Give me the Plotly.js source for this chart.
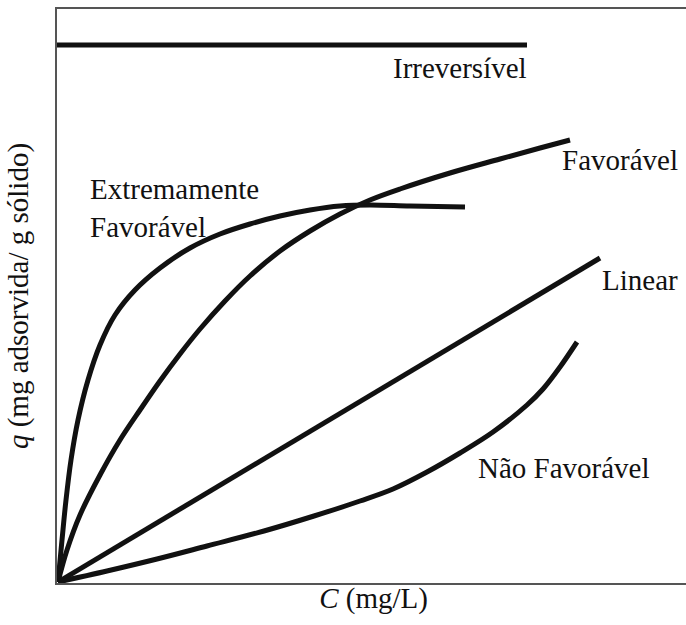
<!DOCTYPE html>
<html>
<head>
<meta charset="utf-8">
<script src="https://cdn.plot.ly/plotly-3.0.1.min.js"></script>
<style>html,body{margin:0;padding:0;background:#fff;overflow:hidden;}#wrap{width:686px;height:625px;overflow:hidden;}#chart{width:690px;height:625px;}</style>
</head>
<body>
<div id="wrap"><div id="chart"></div></div>
<script>
// Concentration C (arbitrary units) and adsorbed amount q (arbitrary units)
const irrevC = [0, 470];
const irrevQ = [538, 538];

const extremC = [1, 5, 9, 14, 21, 31, 43, 58, 78, 103, 133, 163, 193, 223, 253, 283, 313, 353, 408];
const extremQ = [1, 43, 83, 123, 163, 203, 238, 268, 293, 315, 335, 349, 359, 367, 373, 377, 378, 377, 376];

const favC = [1, 10, 23, 43, 63, 83, 103, 123, 143, 168, 193, 223, 253, 283, 313, 343, 393, 443, 483, 513];
const favQ = [1, 33, 68, 108, 143, 173, 202, 229, 254, 282, 307, 332, 352, 369, 383, 394, 410, 424, 435, 443];

const linC = [1, 543];
const linQ = [1, 325];

const naoC = [1, 50, 100, 150, 207, 257, 303, 336, 370, 403, 436, 470, 486, 503, 520];
const naoQ = [1, 12, 24, 37, 52, 67, 82, 94, 111, 130, 151, 178, 194, 216, 241];

const labels = ["Irreversível", "Extremamente<br>Favorável", "Favorável", "Linear", "Não Favorável"];
const labelC = [472, 31, 503, 543, 419];
const labelQ = [515, 375, 423, 303, 115];

const lineStyle = {color: "#111", width: 5, shape: "spline", smoothing: 1};
const traces = [
  {x: irrevC, y: irrevQ, mode: "lines", line: Object.assign({}, lineStyle, {shape: "linear"}), name: labels[0]},
  {x: extremC, y: extremQ, mode: "lines", line: lineStyle, name: "Extremamente Favorável"},
  {x: favC, y: favQ, mode: "lines", line: lineStyle, name: labels[2]},
  {x: linC, y: linQ, mode: "lines", line: Object.assign({}, lineStyle, {shape: "linear"}), name: labels[3]},
  {x: naoC, y: naoQ, mode: "lines", line: lineStyle, name: labels[4]}
];

const font = {family: "Liberation Serif", size: 29, color: "#111"};
const anchors = ["right", "left", "left", "left", "left"];
const annotations = labels.map((t, i) => ({
  x: labelC[i], y: labelQ[i], xref: "x", yref: "y", text: t, showarrow: false,
  xanchor: anchors[i], yanchor: "middle", align: "left", font: font
}));

const layout = {
  width: 690, height: 625,
  margin: {l: 57, r: 0, t: 9, b: 42},
  paper_bgcolor: "#fff", plot_bgcolor: "#fff",
  showlegend: false,
  font: font,
  xaxis: {
    range: [0, 633], showgrid: false, zeroline: false, showticklabels: false, ticks: "",
    showline: true, linecolor: "#555", linewidth: 2, mirror: true,
    title: {text: "<i>C</i> (mg/L)", font: font, standoff: 4}
  },
  yaxis: {
    range: [0, 574], showgrid: false, zeroline: false, showticklabels: false, ticks: "",
    showline: true, linecolor: "#555", linewidth: 2,
    title: {text: "<i>q</i> (mg adsorvida/ g sólido)", font: font, standoff: 18}
  },
  annotations: annotations
};

Plotly.newPlot("chart", traces, layout, {displayModeBar: false, staticPlot: true});
</script>
</body>
</html>
